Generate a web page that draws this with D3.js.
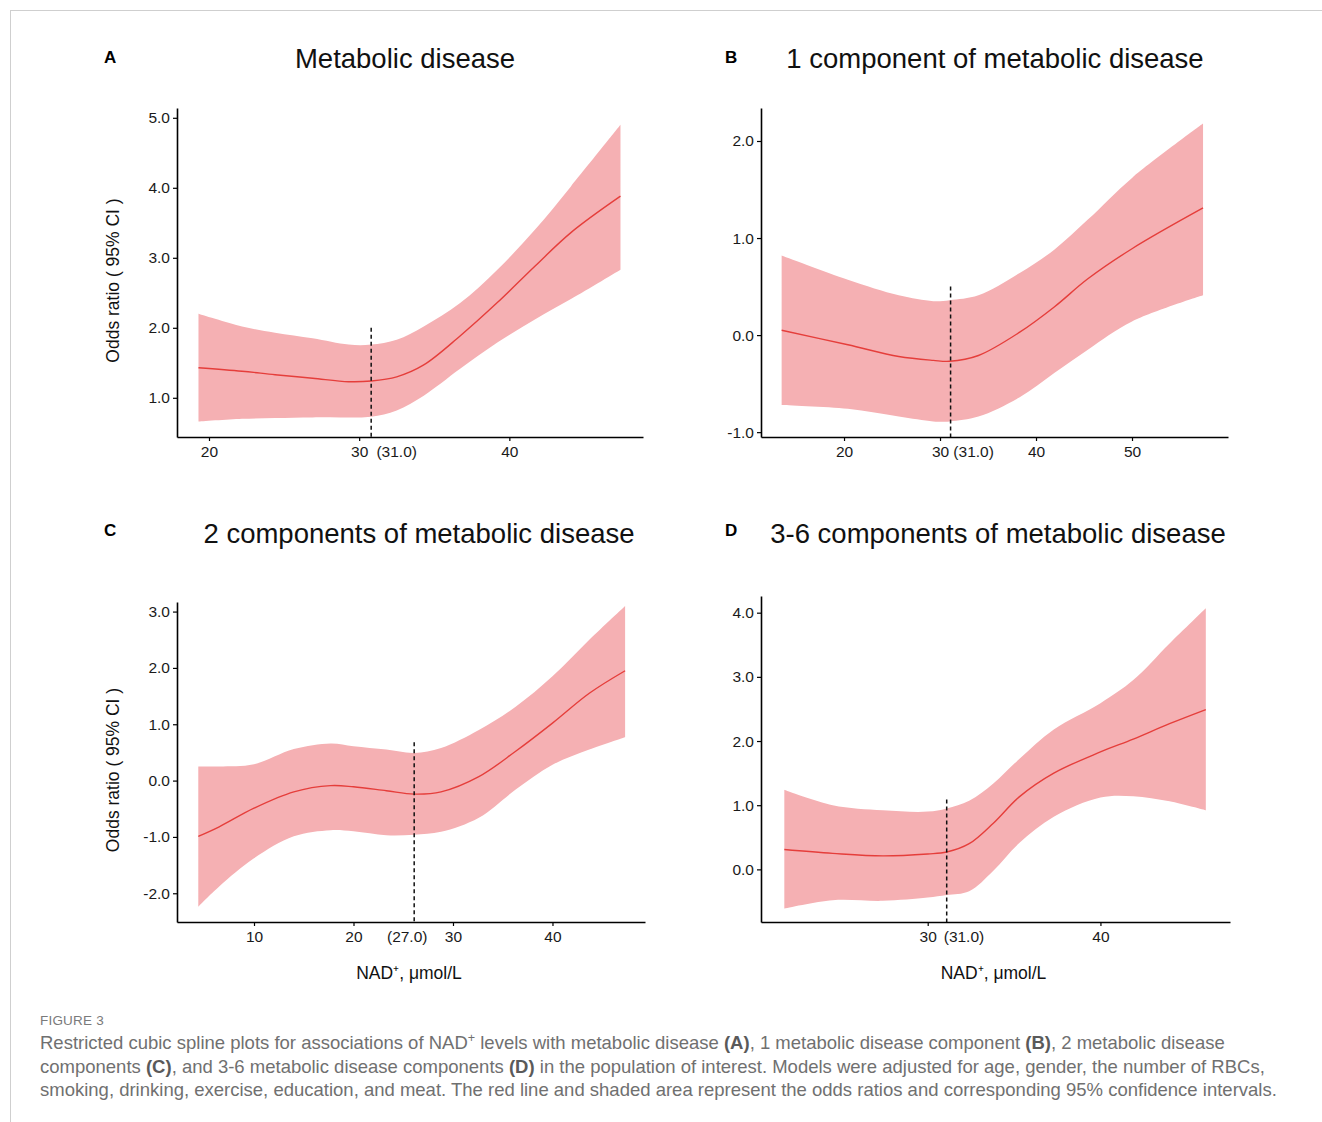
<!DOCTYPE html>
<html>
<head>
<meta charset="utf-8">
<script src="https://cdn.jsdelivr.net/npm/d3@7"></script>
<style>
  body { margin: 0; background: #fff; }
  text { font-family: "Liberation Sans", Arial, sans-serif; }
</style>
</head>
<body>
<svg id="fig"></svg>
<script>
// ---- values ----
// A: metabolic disease
var aX     = [19.3, 22.2, 24.4, 26.9, 29.3, 30.8, 32.5, 34.3, 36.7, 39.2, 41.7, 44.1, 47.4];
var aFit   = [1.43, 1.38, 1.33, 1.28, 1.23, 1.24, 1.30, 1.47, 1.88, 2.36, 2.88, 3.36, 3.88];
var aLower = [0.66, 0.70, 0.71, 0.72, 0.72, 0.73, 0.82, 1.03, 1.41, 1.79, 2.12, 2.41, 2.83];
var aUpper = [2.20, 2.02, 1.93, 1.85, 1.76, 1.76, 1.83, 2.02, 2.35, 2.83, 3.40, 4.02, 4.90];

// B: 1 component
var bX     = [13.5, 20.4, 25.7, 29.3, 31.0, 34.0, 38.3, 41.9, 45.4, 50.0, 57.4];
var bFit   = [0.05, -0.10, -0.22, -0.26, -0.27, -0.21, 0.03, 0.29, 0.58, 0.89, 1.31];
var bLower = [-0.72, -0.76, -0.84, -0.89, -0.89, -0.84, -0.64, -0.39, -0.15, 0.14, 0.41];
var bUpper = [0.82, 0.57, 0.41, 0.35, 0.36, 0.41, 0.64, 0.88, 1.19, 1.62, 2.18];

// C: 2 components
var cX     = [4.4, 6.5, 10, 14, 17.7, 20, 23.3, 26.1, 28.8, 32.6, 36.3, 40, 43.7, 47.3];
var cFit   = [-0.99, -0.82, -0.49, -0.20, -0.09, -0.11, -0.18, -0.24, -0.20, 0.07, 0.52, 1.02, 1.55, 1.95];
var cLower = [-2.24, -1.88, -1.38, -0.99, -0.88, -0.90, -0.97, -0.96, -0.91, -0.66, -0.16, 0.28, 0.55, 0.77];
var cUpper = [0.25, 0.25, 0.29, 0.56, 0.66, 0.61, 0.55, 0.49, 0.58, 0.90, 1.31, 1.85, 2.50, 3.10];

// D: 3-6 components
var dX     = [21.7, 24.5, 27.4, 30, 31.1, 32.4, 33.8, 35.3, 37.3, 40, 41.9, 44, 46.1];
var dFit   = [0.31, 0.25, 0.21, 0.24, 0.27, 0.40, 0.72, 1.13, 1.50, 1.83, 2.03, 2.27, 2.49];
var dLower = [-0.61, -0.48, -0.49, -0.44, -0.40, -0.34, -0.02, 0.41, 0.82, 1.12, 1.14, 1.06, 0.92];
var dUpper = [1.24, 1.00, 0.92, 0.90, 0.95, 1.07, 1.34, 1.72, 2.18, 2.59, 2.95, 3.52, 4.07];

var titles  = ['Metabolic disease', '1 component of metabolic disease',
               '2 components of metabolic disease', '3-6 components of metabolic disease'];
var letters = ['A', 'B', 'C', 'D'];

var xTicksA = [20, 30, 40],        yTicksA = [1, 2, 3, 4, 5];
var xTicksB = [20, 30, 40, 50],    yTicksB = [-1, 0, 1, 2];
var xTicksC = [10, 20, 30, 40],    yTicksC = [-2, -1, 0, 1, 2, 3];
var xTicksD = [30, 40],            yTicksD = [0, 1, 2, 3, 4];

var knotX     = [30.8, 31.1, 26.1, 31.1];   // dashed reference line
var knotTop   = [2.0, 0.5, 0.68, 1.09];
var knotText  = ['(31.0)', '(31.0)', '(27.0)', '(31.0)'];
var knotTextX = [32.5, 33.5, 25.4, 32.1];

var yTitle = 'Odds ratio ( 95% CI )';
var xTitle = 'NAD\u207A, \u03BCmol/L';

var captionHead = 'FIGURE 3';
var captionLines = [
  [['Restricted cubic spline plots for associations of NAD'], ['+', 'sup'],
   [' levels with metabolic disease '], ['(A)', 'b'], [', 1 metabolic disease component '],
   ['(B)', 'b'], [', 2 metabolic disease']],
  [['components '], ['(C)', 'b'], [', and 3-6 metabolic disease components '], ['(D)', 'b'],
   [' in the population of interest. Models were adjusted for age, gender, the number of RBCs,']],
  [['smoking, drinking, exercise, education, and meat. The red line and shaded area represent the odds ratios and corresponding 95% confidence intervals.']]
];

// ---- layout ----
var W = 1322, H = 1122;
var panels = [
  { x: aX, fit: aFit, lo: aLower, hi: aUpper, xd: [17.87, 48.9], yd: [0.44, 5.14],
    xt: xTicksA, yt: yTicksA, box: [177, 643, 108, 437], titleX: 405, titleY: 68, letterX: 104, letterY: 63,
    yLab: true, xLab: false },
  { x: bX, fit: bFit, lo: bLower, hi: bUpper, xd: [11.35, 60], yd: [-1.05, 2.34],
    xt: xTicksB, yt: yTicksB, box: [761, 1228, 108, 437], titleX: 995, titleY: 68, letterX: 725, letterY: 63,
    yLab: false, xLab: false },
  { x: cX, fit: cFit, lo: cLower, hi: cUpper, xd: [2.26, 49.3], yd: [-2.51, 3.17],
    xt: xTicksC, yt: yTicksC, box: [177, 645, 602, 922], titleX: 419, titleY: 543, letterX: 104, letterY: 536,
    yLab: true, xLab: true },
  { x: dX, fit: dFit, lo: dLower, hi: dUpper, xd: [20.35, 47.5], yd: [-0.82, 4.26],
    xt: xTicksD, yt: yTicksD, box: [761, 1230, 596, 922], titleX: 998, titleY: 543, letterX: 725, letterY: 536,
    yLab: false, xLab: true }
];

var svg = d3.select('#fig').attr('width', W).attr('height', H);

// page frame
svg.append('line').attr('x1', 10).attr('x2', W).attr('y1', 10.5).attr('y2', 10.5)
   .attr('stroke', '#cfcfcf').attr('stroke-width', 1);
svg.append('line').attr('x1', 10.5).attr('x2', 10.5).attr('y1', 10).attr('y2', H)
   .attr('stroke', '#cfcfcf').attr('stroke-width', 1);

// plain hyphen for negatives, like the figure
var fmt = function(d){ return d.toFixed(1); };
var smooth = d3.curveCatmullRom.alpha(0.5);

panels.forEach(function(p, i){
  var b = p.box;
  var x = d3.scaleLinear().domain(p.xd).range([b[0], b[1]]);
  var y = d3.scaleLinear().domain(p.yd).range([b[3], b[2]]);
  var g = svg.append('g');

  var rows = p.x.map(function(v, k){ return { x: v, fit: p.fit[k], lo: p.lo[k], hi: p.hi[k] }; });

  var band = d3.area()
               .x(function(d){ return x(d.x); })
               .y0(function(d){ return y(d.lo); })
               .y1(function(d){ return y(d.hi); })
               .curve(smooth);
  var line = d3.line()
               .x(function(d){ return x(d.x); })
               .y(function(d){ return y(d.fit); })
               .curve(smooth);

  g.append('path').datum(rows).attr('d', band).attr('fill', '#f5b0b3');
  g.append('path').datum(rows).attr('d', line)
   .attr('fill', 'none').attr('stroke', '#e53e3b').attr('stroke-width', 1.4);

  // dashed knot line
  g.append('line')
   .attr('x1', x(knotX[i])).attr('x2', x(knotX[i]))
   .attr('y1', y(knotTop[i])).attr('y2', b[3])
   .attr('stroke', '#111').attr('stroke-width', 1.5).attr('stroke-dasharray', '4,3');

  // axes
  var xa = g.append('g').attr('transform', 'translate(0,' + b[3] + ')')
            .call(d3.axisBottom(x).tickValues(p.xt).tickSize(4).tickSizeOuter(0).tickPadding(5));
  var ya = g.append('g').attr('transform', 'translate(' + b[0] + ',0)')
            .call(d3.axisLeft(y).tickValues(p.yt).tickFormat(fmt).tickSize(4).tickSizeOuter(0).tickPadding(3));
  [xa, ya].forEach(function(a){
    a.select('.domain').attr('stroke', '#000').attr('stroke-width', 1.6);
    a.selectAll('.tick line').attr('stroke', '#000').attr('stroke-width', 1.2);
    a.selectAll('.tick text').attr('fill', '#1a1a1a').style('font-size', '15.5px')
     .style('font-family', '"Liberation Sans", Arial, sans-serif');
  });

  // knot label next to tick labels
  g.append('text').attr('x', x(knotTextX[i])).attr('y', b[3] + 9)
   .attr('dy', '0.71em').attr('text-anchor', 'middle')
   .attr('fill', '#1a1a1a').style('font-size', '15.5px').text(knotText[i]);

  // titles and letters
  g.append('text').attr('x', p.titleX).attr('y', p.titleY).attr('text-anchor', 'middle')
   .attr('fill', '#111').style('font-size', '27.5px').text(titles[i]);
  g.append('text').attr('x', p.letterX).attr('y', p.letterY)
   .attr('fill', '#000').style('font-size', '17px').style('font-weight', 'bold').text(letters[i]);

  if (p.yLab) {
    g.append('text')
     .attr('transform', 'translate(119,' + ((b[2] + b[3]) / 2 + 8) + ') rotate(-90)')
     .attr('text-anchor', 'middle').attr('fill', '#111').style('font-size', '17.5px').text(yTitle);
  }
  if (p.xLab) {
    g.append('text').attr('x', (b[0] + b[1]) / 2 - 2).attr('y', 979)
     .attr('text-anchor', 'middle').attr('fill', '#111').style('font-size', '17.5px').text(xTitle);
  }
});

// ---- caption ----
var cap = svg.append('g');
cap.append('text').attr('x', 40).attr('y', 1025).attr('fill', '#7a7a7a')
   .style('font-size', '13.5px').style('letter-spacing', '0.2px').text(captionHead);

var capY = [1049, 1073, 1096];
var capNodes = captionLines.map(function(segs, li){
  var t = cap.append('text').attr('x', 40).attr('y', capY[li]).attr('fill', '#707070')
             .style('font-size', '16px');
  segs.forEach(function(s){
    var sp = t.append('tspan').text(s[0]);
    if (s[1] === 'b') sp.style('font-weight', 700).attr('fill', '#5a5a5a');
    if (s[1] === 'sup') sp.attr('dy', -7).attr('class', 'sup');
  });
  // back to the baseline after the superscript
  t.selectAll('tspan.sup').each(function(){
    var nxt = this.nextSibling;
    if (nxt) d3.select(nxt).attr('dy', 7);
  });
  return t;
});
// fit the last line to the width seen in the figure
var w3 = capNodes[2].node().getComputedTextLength();
var fs = 16 * 1238 / w3;
capNodes.forEach(function(t){ t.style('font-size', fs + 'px'); });
cap.selectAll('tspan.sup').style('font-size', (fs * 0.68) + 'px');
</script>
</body>
</html>
